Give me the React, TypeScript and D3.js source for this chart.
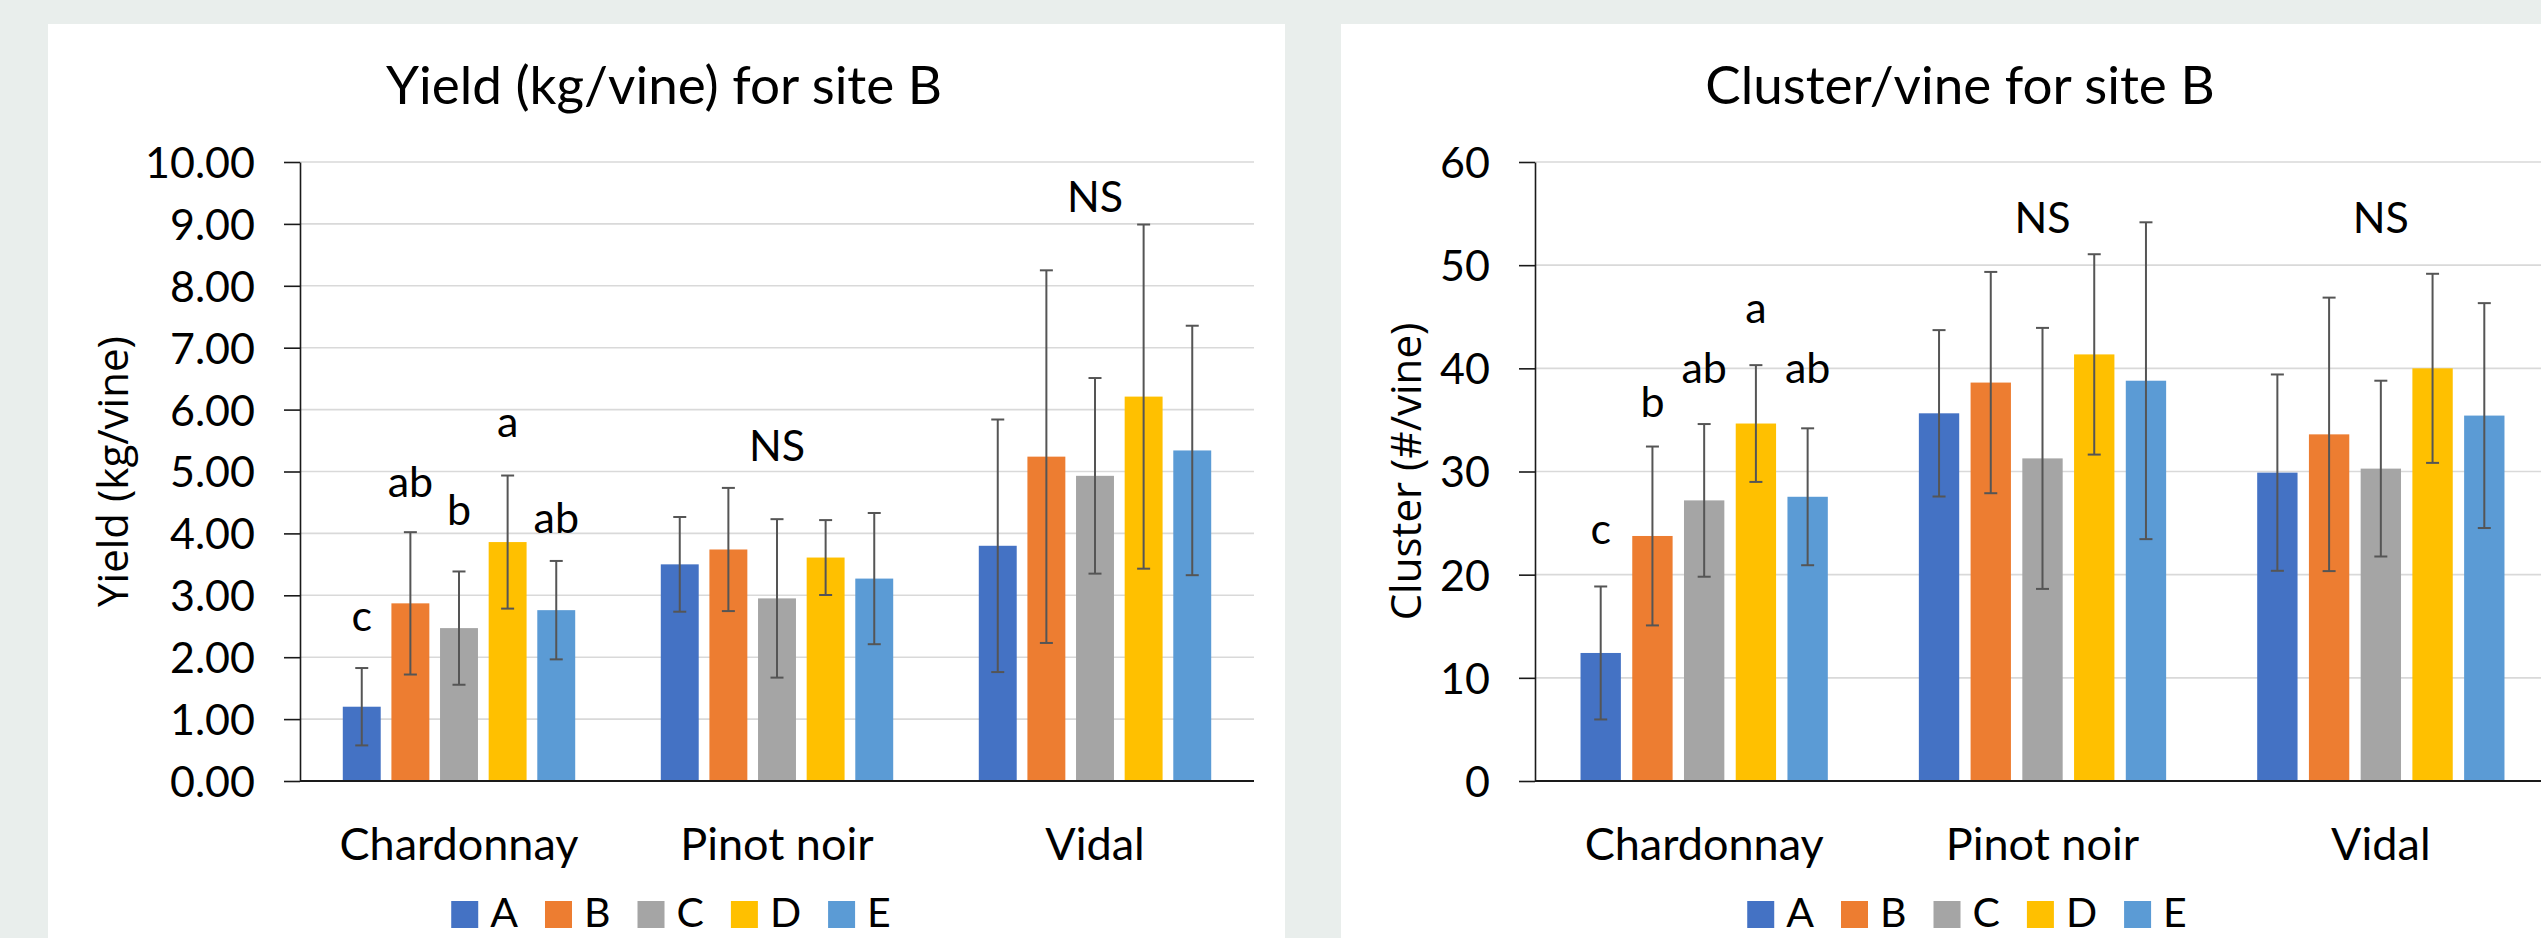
import { useEffect, useRef } from "react";
import * as d3 from "d3";

// Two grouped bar charts with SD error bars (site B).

const W = 2541;
const H = 938;

const FONT = "Lato, 'Liberation Sans', sans-serif";
const AXIS_TITLE_FONT = "'Open Sans', 'Noto Sans', sans-serif";
const PAGE_BG = "#E9EEEC";
const GRID = "#D9D9D9";
const AXIS = "#1a1a1a";
const ERR = "#555555";

const categories = ["Chardonnay", "Pinot noir", "Vidal"];
const treatments = ["A", "B", "C", "D", "E"];
const treatmentColors = ["#4472C4", "#ED7D31", "#A5A5A5", "#FFC000", "#5B9BD5"];

// yield, kg/vine — one row per cultivar, one column per treatment
const yieldMeans = [
  [1.2, 2.87, 2.47, 3.86, 2.76],
  [3.5, 3.74, 2.95, 3.61, 3.27],
  [3.8, 5.24, 4.93, 6.21, 5.34],
];
const yieldSds = [
  [0.625, 1.15, 0.915, 1.075, 0.795],
  [0.765, 0.995, 1.28, 0.605, 1.06],
  [2.04, 3.01, 1.58, 2.78, 2.015],
];
const yieldTicks = [0, 1, 2, 3, 4, 5, 6, 7, 8, 9, 10];
// mean separation letters (Chardonnay only), and where they sit on the y scale
const yieldLetters = ["c", "ab", "b", "a", "ab"];
const yieldLetterLevels = [2.42, 4.59, 4.14, 5.56, 4.0];
const yieldNsLevels = [null, 5.17, 9.2];

// clusters per vine
const clusterMeans = [
  [12.41, 23.75, 27.2, 34.65, 27.55],
  [35.64, 38.62, 31.27, 41.35, 38.8],
  [29.89, 33.6, 30.28, 40.0, 35.42],
];
const clusterSds = [
  [6.445, 8.67, 7.4, 5.66, 6.635],
  [8.065, 10.725, 12.65, 9.71, 15.355],
  [9.515, 13.255, 8.52, 9.165, 10.9],
];
const clusterTicks = [0, 10, 20, 30, 40, 50, 60];
const clusterLetters = ["c", "b", "ab", "a", "ab"];
const clusterLetterLevels = [22.97, 35.28, 38.58, 44.39, 38.58];
const clusterNsLevels = [null, 53.16, 53.16];

const charts = [
  {
    title: "Yield (kg/vine) for site B",
    yLabel: "Yield (kg/vine)",
    means: yieldMeans,
    sds: yieldSds,
    ticks: yieldTicks,
    format: d3.format(".2f"),
    letters: yieldLetters,
    letterLevels: yieldLetterLevels,
    nsLevels: yieldNsLevels,
    panel: { x: 48, w: 1237 },
    plot: { left: 300, right: 1254, top: 162, bottom: 781 },
    titleX: 664,
    legendX: 671,
  },
  {
    title: "Cluster/vine for site B",
    yLabel: "Cluster (#/vine)",
    means: clusterMeans,
    sds: clusterSds,
    ticks: clusterTicks,
    format: d3.format("d"),
    letters: clusterLetters,
    letterLevels: clusterLetterLevels,
    nsLevels: clusterNsLevels,
    panel: { x: 1341, w: 1244 },
    plot: { left: 1535, right: 2550, top: 162, bottom: 781 },
    titleX: 1960,
    legendX: 1967,
  },
];

function drawChart(svg, cfg) {
  const { plot, panel } = cfg;
  const g = svg.append("g");

  g.append("rect")
    .attr("x", panel.x)
    .attr("y", 24)
    .attr("width", panel.w)
    .attr("height", H)
    .attr("fill", "#fff");

  const x0 = d3.scaleBand().domain(categories).range([plot.left, plot.right]);
  const x1 = d3
    .scaleBand()
    .domain(treatments)
    .range([0, x0.bandwidth()])
    .paddingInner(0.22)
    .paddingOuter(0.88);
  const y = d3
    .scaleLinear()
    .domain(d3.extent(cfg.ticks))
    .range([plot.bottom, plot.top]);

  // gridlines
  g.append("g")
    .selectAll("line")
    .data(cfg.ticks.filter((t) => t > 0))
    .join("line")
    .attr("x1", plot.left)
    .attr("x2", Math.min(plot.right, W))
    .attr("y1", (d) => y(d))
    .attr("y2", (d) => y(d))
    .attr("stroke", GRID)
    .attr("stroke-width", 1.6);

  // bars
  const groups = g
    .append("g")
    .selectAll("g")
    .data(categories)
    .join("g")
    .attr("transform", (c) => `translate(${x0(c)},0)`);

  groups
    .selectAll("rect")
    .data((c, ci) => treatments.map((t, ti) => ({ t, ti, v: cfg.means[ci][ti] })))
    .join("rect")
    .attr("x", (d) => x1(d.t))
    .attr("y", (d) => y(d.v))
    .attr("width", x1.bandwidth())
    .attr("height", (d) => plot.bottom - y(d.v))
    .attr("fill", (d) => treatmentColors[d.ti]);

  // error bars
  const cap = 6.5;
  const err = groups
    .selectAll("g.err")
    .data((c, ci) =>
      treatments.map((t, ti) => ({ t, v: cfg.means[ci][ti], sd: cfg.sds[ci][ti] }))
    )
    .join("g")
    .attr("class", "err")
    .attr("stroke", ERR)
    .attr("stroke-width", 2);
  const cx = (d) => x1(d.t) + x1.bandwidth() / 2;
  err
    .append("line")
    .attr("x1", cx)
    .attr("x2", cx)
    .attr("y1", (d) => y(d.v + d.sd))
    .attr("y2", (d) => y(d.v - d.sd));
  err
    .append("line")
    .attr("x1", (d) => cx(d) - cap)
    .attr("x2", (d) => cx(d) + cap)
    .attr("y1", (d) => y(d.v + d.sd))
    .attr("y2", (d) => y(d.v + d.sd));
  err
    .append("line")
    .attr("x1", (d) => cx(d) - cap)
    .attr("x2", (d) => cx(d) + cap)
    .attr("y1", (d) => y(d.v - d.sd))
    .attr("y2", (d) => y(d.v - d.sd));

  // y axis
  const yAxis = d3
    .axisLeft(y)
    .tickValues(cfg.ticks)
    .tickFormat(cfg.format)
    .tickSize(16)
    .tickSizeOuter(0)
    .tickPadding(29);
  g.append("g")
    .attr("transform", `translate(${plot.left},0)`)
    .call(yAxis)
    .call((ga) => ga.select(".domain").attr("stroke", AXIS).attr("stroke-width", 1.6))
    .call((ga) => ga.selectAll(".tick line").attr("stroke", AXIS).attr("stroke-width", 1.6))
    .call((ga) =>
      ga
        .selectAll(".tick text")
        .attr("fill", "#000")
        .attr("font-family", FONT)
        .attr("font-size", 43)
        .attr("dy", "0.36em")
    );

  // x axis baseline + category labels
  g.append("line")
    .attr("x1", plot.left)
    .attr("x2", Math.min(plot.right, W))
    .attr("y1", plot.bottom)
    .attr("y2", plot.bottom)
    .attr("stroke", AXIS)
    .attr("stroke-width", 1.8);

  g.append("g")
    .selectAll("text")
    .data(categories)
    .join("text")
    .attr("x", (c) => x0(c) + x0.bandwidth() / 2)
    .attr("y", 860)
    .attr("text-anchor", "middle")
    .attr("font-family", FONT)
    .attr("font-size", 45)
    .text((c) => c);

  // significance letters over Chardonnay
  g.append("g")
    .selectAll("text")
    .data(cfg.letters.map((l, i) => ({ l, t: treatments[i], lv: cfg.letterLevels[i] })))
    .join("text")
    .attr("x", (d) => x0(categories[0]) + x1(d.t) + x1.bandwidth() / 2)
    .attr("y", (d) => y(d.lv))
    .attr("text-anchor", "middle")
    .attr("font-family", FONT)
    .attr("font-size", 43)
    .text((d) => d.l);

  g.append("g")
    .selectAll("text")
    .data(categories.map((c, i) => ({ c, lv: cfg.nsLevels[i] })).filter((d) => d.lv != null))
    .join("text")
    .attr("x", (d) => x0(d.c) + x0.bandwidth() / 2)
    .attr("y", (d) => y(d.lv))
    .attr("text-anchor", "middle")
    .attr("font-family", FONT)
    .attr("font-size", 43)
    .text("NS");

  // titles
  g.append("text")
    .attr("x", cfg.titleX)
    .attr("y", 104)
    .attr("text-anchor", "middle")
    .attr("font-family", FONT)
    .attr("font-size", 53)
    .text(cfg.title);

  g.append("text")
    .attr("transform", `translate(${panel.x + 80},${(plot.top + plot.bottom) / 2}) rotate(-90)`)
    .attr("text-anchor", "middle")
    .attr("font-family", AXIS_TITLE_FONT)
    .attr("font-size", 42)
    .text(cfg.yLabel);

  // legend, centred under the chart (sits right at the bottom edge)
  const legend = g.append("g");
  const items = legend
    .selectAll("g")
    .data(treatments)
    .join("g");
  items
    .append("rect")
    .attr("y", 901)
    .attr("width", 27)
    .attr("height", 27)
    .attr("fill", (d, i) => treatmentColors[i]);
  items
    .append("text")
    .attr("x", 39)
    .attr("y", 927)
    .attr("font-family", FONT)
    .attr("font-size", 41)
    .text((d) => d);
  let offset = 0;
  items.each(function () {
    const w = this.querySelector("text").getComputedTextLength();
    d3.select(this).attr("transform", `translate(${offset},0)`);
    offset += 39 + w + 27;
  });
  const total = offset - 27;
  legend.attr("transform", `translate(${cfg.legendX - total / 2},0)`);
}

export default function App() {
  const ref = useRef(null);

  useEffect(() => {
    const svg = d3.select(ref.current);
    svg.selectAll("*").remove();
    svg.append("rect").attr("width", W).attr("height", H).attr("fill", PAGE_BG);
    charts.forEach((c) => drawChart(svg, c));
  }, []);

  return (
    <svg
      ref={ref}
      width={W}
      height={H}
      style={{ position: "absolute", left: 0, top: 0, display: "block" }}
    />
  );
}
